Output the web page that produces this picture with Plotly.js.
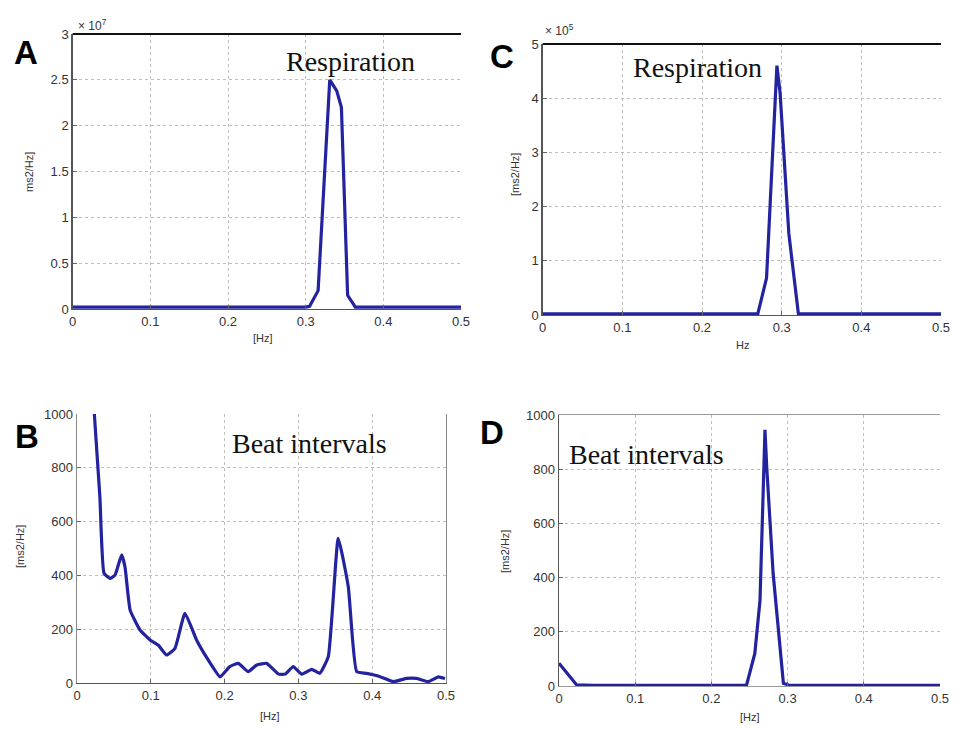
<!DOCTYPE html>
<html>
<head>
<meta charset="utf-8">
<script src="https://cdn.plot.ly/plotly-3.0.1.min.js"></script>
<style>html,body{margin:0;padding:0;background:#fff;}#chart{width:956px;height:730px;}</style>
</head>
<body>
<div id="chart"></div>
<script>
// ---- data ----
const xTickVals = [0, 0.1, 0.2, 0.3, 0.4, 0.5];
const xTickText = ['0', '0.1', '0.2', '0.3', '0.4', '0.5'];

// Panel A: respiration spectrum, units x10^7 ms2/Hz
const freqA = [0, 0.10, 0.20, 0.300, 0.305, 0.316, 0.331, 0.340, 0.346, 0.354, 0.364, 0.40, 0.50];
const powA  = [0.02, 0.02, 0.02, 0.02, 0.03, 0.20, 2.50, 2.38, 2.20, 0.15, 0.02, 0.02, 0.02];
const yTickValsA = [0, 0.5, 1, 1.5, 2, 2.5, 3];
const yTickTextA = ['0', '0.5', '1', '1.5', '2', '2.5', '3'];

// Panel C: respiration spectrum, units x10^5 ms2/Hz
const freqC = [0, 0.10, 0.20, 0.270, 0.281, 0.294, 0.298, 0.309, 0.321, 0.40, 0.50];
const powC  = [0.02, 0.02, 0.02, 0.02, 0.68, 4.60, 4.10, 1.50, 0.02, 0.02, 0.02];
const yTickValsC = [0, 1, 2, 3, 4, 5];
const yTickTextC = ['0', '1', '2', '3', '4', '5'];

// Panel B: beat intervals spectrum, ms2/Hz
const freqB = [0.0235, 0.031, 0.0366, 0.0447, 0.0515, 0.0605, 0.065, 0.072, 0.0854, 0.099, 0.110,
               0.1215, 0.1328, 0.1463, 0.162, 0.178, 0.194, 0.207, 0.2186, 0.232, 0.2435, 0.257,
               0.273, 0.282, 0.293, 0.3045, 0.318, 0.329, 0.3405, 0.354, 0.3676, 0.379, 0.3925,
               0.408, 0.4286, 0.4467, 0.46, 0.476, 0.4896, 0.4986];
const powB  = [1000, 692, 408, 389, 401, 476, 432, 271, 197, 160, 141,
               104, 129, 259, 160, 85, 23, 61, 73, 42, 67, 73,
               33, 33, 61, 33, 51, 36, 98, 538, 358, 42, 36,
               26, 5, 17, 17, 5, 23, 17];
const yTickValsB = [0, 200, 400, 600, 800, 1000];
const yTickTextB = ['0', '200', '400', '600', '800', '1000'];

// Panel D: beat intervals spectrum, ms2/Hz
const freqD = [0, 0.0232, 0.045, 0.10, 0.20, 0.246, 0.257, 0.2638, 0.2703, 0.2726, 0.281, 0.2945, 0.303, 0.40, 0.50];
const powD  = [84, 4, 2, 2, 2, 2, 120, 317, 945, 809, 416, 10, 2, 2, 2];
const yTickValsD = [0, 200, 400, 600, 800, 1000];
const yTickTextD = ['0', '200', '400', '600', '800', '1000'];

// ---- layout helpers ----
const W = 956, H = 730;
const px = v => v / W;
const py = v => 1 - v / H;
const tickFont = {family: 'Liberation Sans, Arial, sans-serif', size: 13, color: '#333'};
const lineStyle = {color: '#23239f', width: 3.2};

function xAxis(domain, anchor, extra) {
  return Object.assign({
    domain: domain, anchor: anchor, range: [0, 0.5],
    tickmode: 'array', tickvals: xTickVals, ticktext: xTickText,
    showgrid: true, gridcolor: '#bdbdbd', griddash: 'dot', gridwidth: 1,
    zeroline: false, showline: true, linecolor: '#555', linewidth: 1.4,
    ticks: 'inside', ticklen: 4, tickcolor: '#666',
    tickfont: tickFont, fixedrange: true
  }, extra || {});
}
function yAxis(domain, anchor, range, vals, text, extra) {
  return Object.assign({
    domain: domain, anchor: anchor, range: range,
    tickmode: 'array', tickvals: vals, ticktext: text,
    showgrid: true, gridcolor: '#bdbdbd', griddash: 'dot', gridwidth: 1,
    zeroline: false, showline: true, linecolor: '#555', linewidth: 1.4,
    ticks: 'inside', ticklen: 4, tickcolor: '#666',
    tickfont: tickFont, fixedrange: true
  }, extra || {});
}

const traces = [
  {x: freqA, y: powA, xaxis: 'x', yaxis: 'y', type: 'scatter', mode: 'lines', line: lineStyle, hoverinfo: 'skip'},
  {x: freqC, y: powC, xaxis: 'x2', yaxis: 'y2', type: 'scatter', mode: 'lines', line: lineStyle, hoverinfo: 'skip'},
  {x: freqB, y: powB, xaxis: 'x3', yaxis: 'y3', type: 'scatter', mode: 'lines', line: Object.assign({}, lineStyle, {shape: 'spline', smoothing: 0.4}), hoverinfo: 'skip'},
  {x: freqD, y: powD, xaxis: 'x4', yaxis: 'y4', type: 'scatter', mode: 'lines', line: lineStyle, hoverinfo: 'skip'}
];

const serif = {family: 'Liberation Serif, Times New Roman, serif', size: 28, color: '#111'};
const letter = {family: 'Liberation Sans, Arial, sans-serif', size: 33, color: '#000'};
const small = {family: 'Liberation Sans, Arial, sans-serif', size: 11, color: '#333'};
const expo = {family: 'Liberation Sans, Arial, sans-serif', size: 12, color: '#333'};

function ann(text, x, y, font, extra) {
  return Object.assign({text: text, x: px(x), y: py(y), xref: 'paper', yref: 'paper',
    showarrow: false, xanchor: 'center', yanchor: 'middle', font: font}, extra || {});
}

const layout = {
  width: W, height: H,
  margin: {l: 0, r: 0, t: 0, b: 0},
  paper_bgcolor: '#fff', plot_bgcolor: '#fff',
  showlegend: false,
  xaxis:  xAxis([px(72.7), px(461)], 'y'),
  yaxis:  yAxis([py(309), py(34)], 'x', [0, 3], yTickValsA, yTickTextA),
  xaxis2: xAxis([px(542.7), px(941)], 'y2'),
  yaxis2: yAxis([py(315), py(44)], 'x2', [0, 5], yTickValsC, yTickTextC),
  xaxis3: xAxis([px(77), px(446)], 'y3'),
  yaxis3: yAxis([py(683), py(414)], 'x3', [0, 1000], yTickValsB, yTickTextB, {mirror: true, linecolor: '#888'}),
  xaxis4: xAxis([px(559), px(940)], 'y4', {mirror: true, linecolor: '#999'}),
  yaxis4: yAxis([py(686), py(415)], 'x4', [0, 1000], yTickValsD, yTickTextD),
  shapes: [
    {type: 'line', xref: 'x domain', yref: 'y domain', x0: 0, x1: 1, y0: 1, y1: 1, line: {color: '#111', width: 2}},
    {type: 'line', xref: 'x2 domain', yref: 'y2 domain', x0: 0, x1: 1, y0: 1, y1: 1, line: {color: '#111', width: 2}}
  ],
  annotations: [
    ann('<b>A</b>', 26, 52, letter),
    ann('<b>B</b>', 27, 436, letter),
    ann('<b>C</b>', 502, 57, letter),
    ann('<b>D</b>', 492, 432, letter),
    ann('Respiration', 350, 62, serif),
    ann('Respiration', 697, 67, serif),
    ann('Beat intervals', 309, 443, serif),
    ann('Beat intervals', 646, 454, serif),
    ann('× 10<sup>7</sup>', 76, 25, expo, {xanchor: 'left'}),
    ann('× 10<sup>5</sup>', 543, 30, expo, {xanchor: 'left'}),
    ann('ms2/Hz]', 29, 172, small, {textangle: -90}),
    ann('[ms2/Hz]', 515, 175, small, {textangle: -90}),
    ann('[ms2/Hz]', 20, 547, small, {textangle: -90}),
    ann('[ms2/Hz]', 505, 552, small, {textangle: -90}),
    ann('[Hz]', 263, 338, small),
    ann('Hz', 742, 345, small),
    ann('[Hz]', 270, 716, small),
    ann('[Hz]', 750, 717, small)
  ]
};

Plotly.newPlot('chart', traces, layout, {displayModeBar: false, staticPlot: true});
</script>
</body>
</html>
